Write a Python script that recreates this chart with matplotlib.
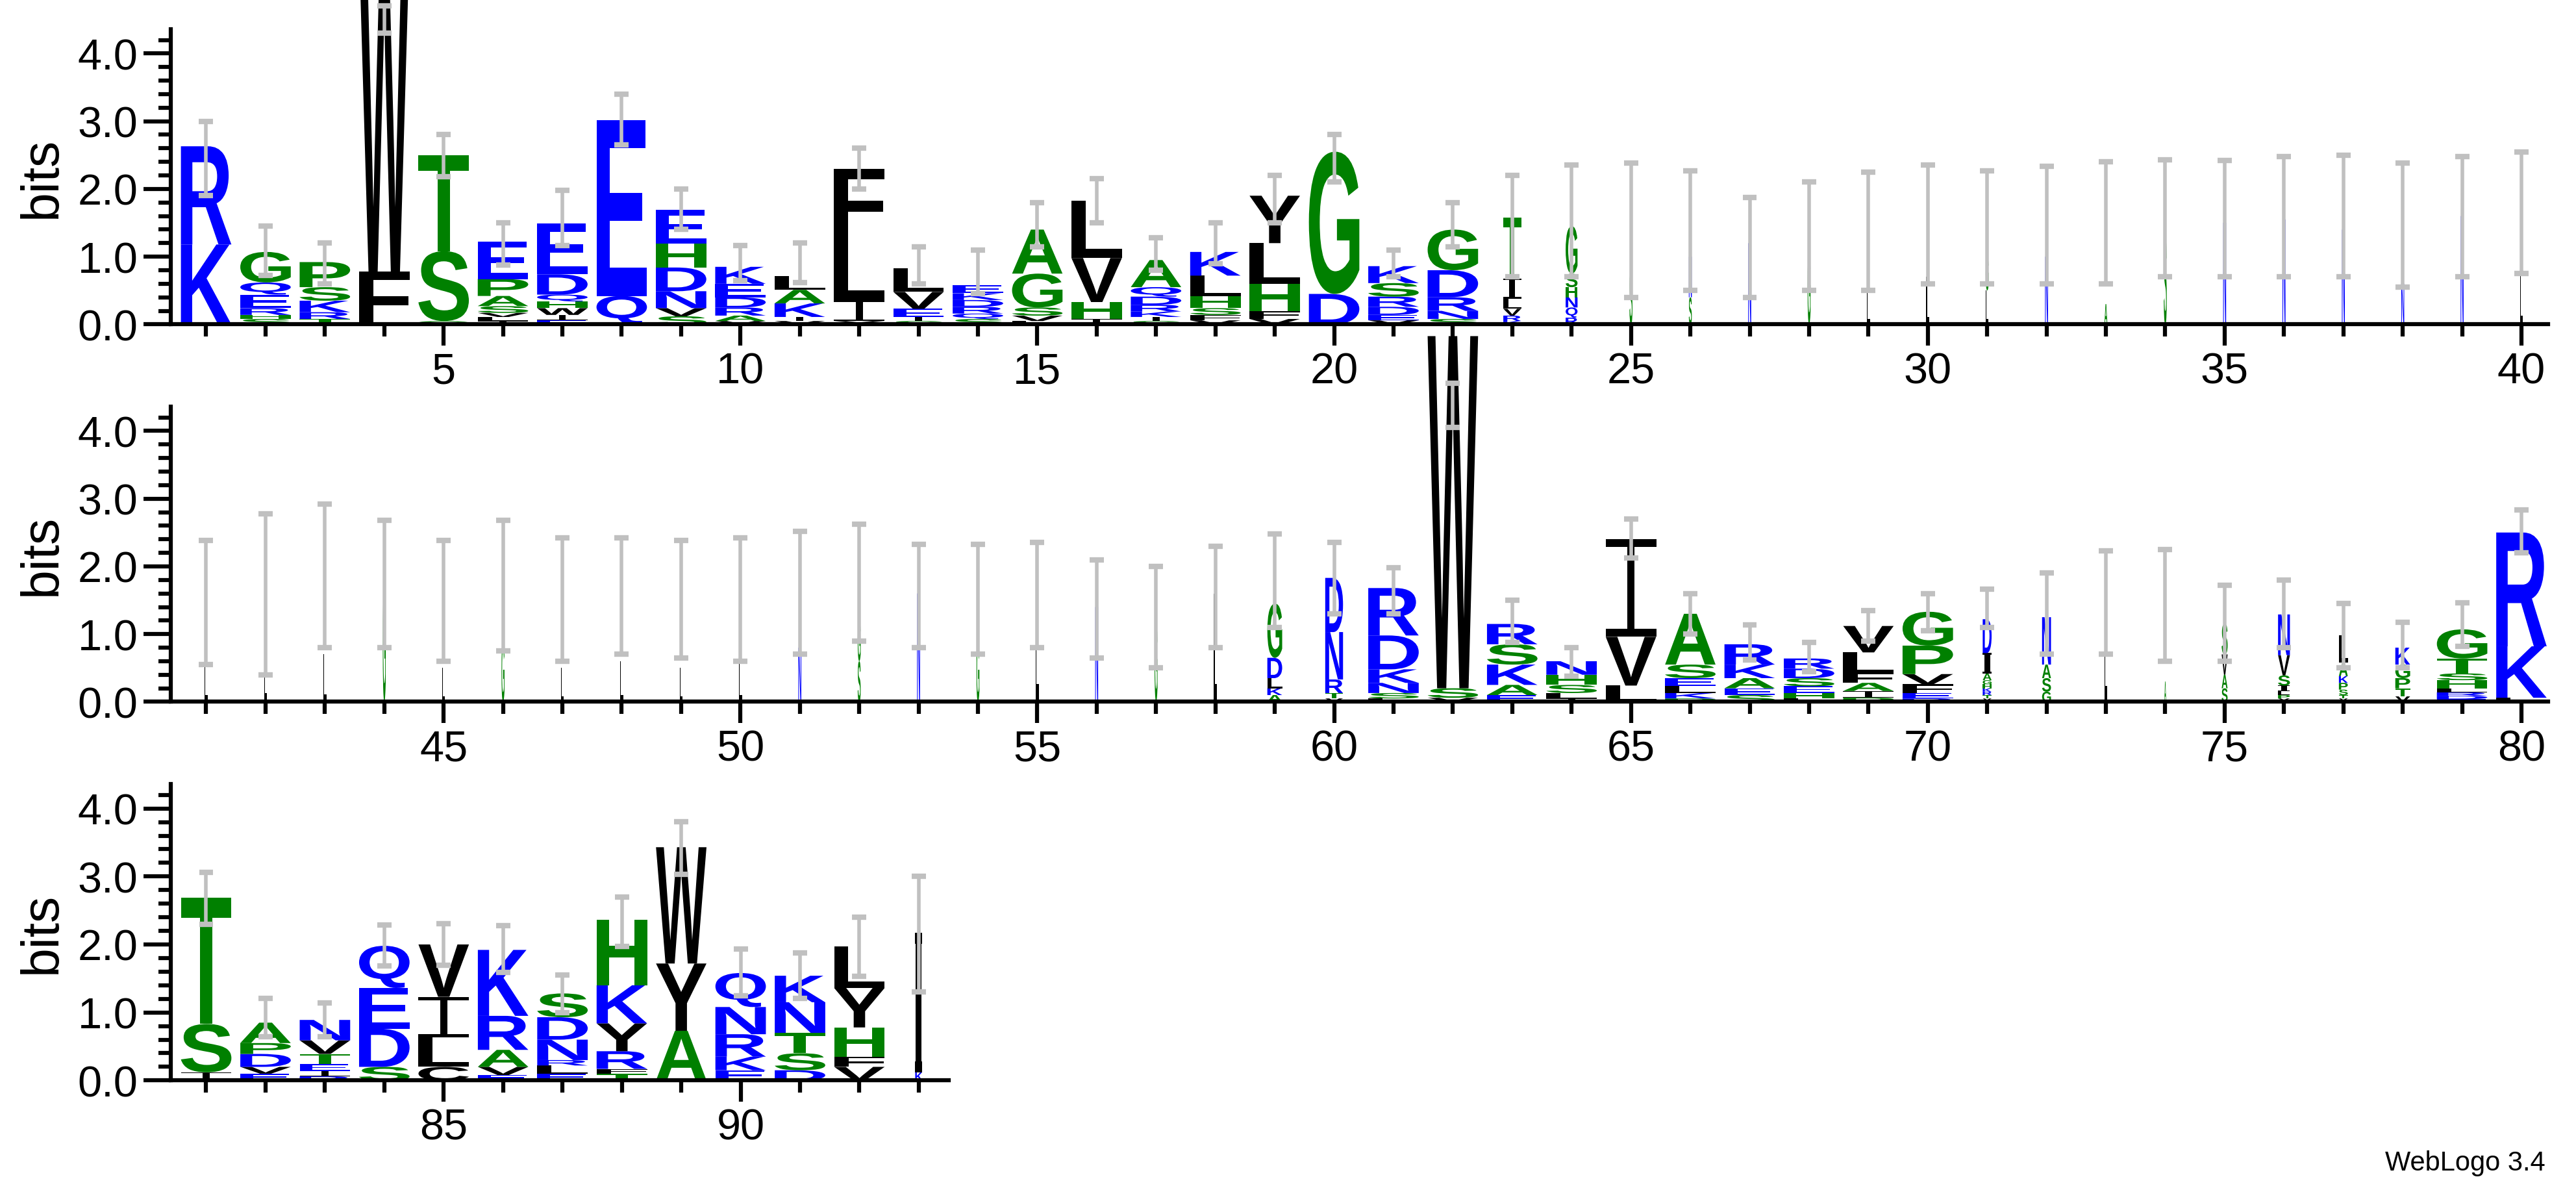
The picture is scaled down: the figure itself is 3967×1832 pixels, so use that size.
import numpy as np
import matplotlib
matplotlib.use('Agg')
import matplotlib.pyplot as plt
from matplotlib.textpath import TextPath
from matplotlib.patches import PathPatch
from matplotlib.path import Path
from matplotlib.font_manager import FontProperties
from matplotlib.transforms import Affine2D
from matplotlib.ticker import MultipleLocator

plt.rcParams['font.family'] = ['Liberation Sans', 'DejaVu Sans']

# letters of each stack, bottom to top, and the height (bits) of each letter
stack_letters = [
    "KR", "SHREQG", "TRKSP", "FW", "GST", "ILVSAPE", "EIWHQDE", "QE", "SVNDHE", "VARDEK",
    "VIKAL", "YILF", "SIEVL", "SQRDKE", "LVSGA", "IHVL", "SIKRDQA", "VFSHLK", "VFHLY", "DG",
    "VEDRSK", "SNRDG", "KRVLIT", "RQNHSG", "S", "SN", "N", "GL", "L", "L",
    "LGI", "N", "A", "S", "N", "N", "N", "N", "N", "L",
    "L", "L", "L", "G", "L", "G", "L", "L", "L", "L",
    "N", "SGL", "N", "G", "L", "N", "G", "L", "AKLDG", "VTRND",
    "LSNKDR", "VSW", "EAKSR", "ILSHN", "LVI", "PKLESA", "SEAKR", "LHESDR", "PIAFLV", "REFVPG",
    "YTRKHGAID", "GSAN", "L", "A", "SAVS", "YPLISVN", "YTSPKAL", "VTPGK", "EDRLHSTG", "LKR",
    "IST", "EVDPA", "RIETVN", "SDEQ", "CLIV", "EVARK", "ELRNDS", "TFRYKH", "AYW", "EKRNQ",
    "DSTNK", "VFHYL", "KI",
]
stack_heights = [
    [1.18, 1.45], [.08, .06, .1, .2, .18, .45], [.08, .1, .17, .2, .37], [.78, 4.8], [.05, 1.03, 1.42],
    [.05, .06, .06, .1, .15, .25, .55], [.06, .08, .1, .1, .1, .3, .75], [.42, 2.6], [.12, .12, .25, .35, .35, .5],
    [.05, .08, .12, .15, .2, .25],
    [.05, .06, .2, .2, .2], [.05, .3, .95, 1.0], [.05, .06, .12, .25, .35], [.08, .08, .1, .1, .1, .12],
    [.05, .08, .12, .5, .65], [.08, .25, .65, .85], [.05, .06, .08, .1, .12, .14, .4], [.06, .08, .1, .18, .3, .35],
    [.08, .12, .4, .6, .7], [.45, 2.1],
    [.06, .08, .12, .15, .2, .25], [.08, .12, .2, .4, .6], [.05, .08, .1, .15, .3, .9], [.1, .15, .15, .15, .2, .7],
    [.8], [.4, .6], [1.2], [1.1, .3], [.5], [.7],
    [.5, .5, .5], [1.0], [.3], [1.3], [1.5], [1.55], [1.4], [.6], [1.6], [.8],
    [.6], [.8], [.7], [1.7], [.5], [.9], [.5], [.6], [.5], [.6],
    [.8], [.6, .6, .5], [1.6], [.9], [1.6], [1.4], [1.2], [1.6], [.1, .1, .15, .3, .8], [.05, .08, .2, .7, .8],
    [.05, .08, .15, .2, .5, .7], [.06, .14, 5.2], [.1, .15, .3, .3, .3], [.05, .08, .12, .15, .2], [.24, .72, 1.44],
    [.05, .08, .1, .12, .2, .75], [.1, .1, .15, .2, .3], [.05, .08, .1, .12, .14, .15], [.06, .1, .12, .15, .3, .39],
    [.05, .08, .13, .15, .42, .5],
    [.05, .05, .05, .05, .06, .06, .1, .3, .5], [.15, .2, .2, .7], [1.45], [.3], [.2, .2, .3, .45],
    [.05, .05, .06, .08, .15, .3, .6], [.05, .05, .08, .1, .1, .2, .4], [.08, .12, .15, .2, .25],
    [.04, .05, .05, .06, .12, .1, .22, .43], [.06, .76, 1.68],
    [.12, .71, 1.86], [.1, .1, .19, .16, .3], [.06, .08, .1, .15, .2, .3], [.2, .56, .6, .62], [.2, .43, .6, .77],
    [.08, .12, .25, .5, .97], [.1, .12, .08, .3, .33, .35], [.1, .07, .26, .41, .56, .96], [.73, .99, 1.71],
    [.15, .2, .33, .4, .5],
    [.15, .25, .3, .45, .39], [.2, .15, .43, .58, .61], [.12, 2.05],
]
stack_widths = [0.85] * 22 + [0.3, 0.2] + [0.05] * 34 + [0.25, 0.3] + [0.85] * 10 + \
    [0.15, 0.15, 0.05, 0.03, 0.1, 0.2, 0.15, 0.25, 0.85, 0.85] + [0.85] * 12 + [0.12]
err_lo = [1.9, .72, .6, 4.3, 2.18, .88, 1.16, 2.65, 1.4, .65,
          .62, 2.0, .6, .45, 1.15, 1.5, .8, .9, 1.5, 2.1,
          .7, 1.15, .7, .7, .4, .5, .4, .5, .5, .6,
          .6, .6, .6, .7, .7, .7, .7, .55, .7, .75,
          .55, .4, .8, .8, .6, .75, .6, .7, .65, .6,
          .7, .9, .8, .7, .8, .65, .5, .8, 1.1, 1.3,
          1.3, 4.05, .88, .38, 2.12, 1.0, .62, .45, .9, 1.05,
          1.1, .7, .7, .6, .6, .8, .5, .5, .82, 2.2,
          2.3, .64, .64, 1.68, 1.69, 1.59, 1.0, 1.97, 3.03, 1.25,
          1.21, 1.53, 1.3]
err_hi = [3.0, 1.45, 1.2, 4.7, 2.8, 1.5, 1.98, 3.4, 2.0, 1.16,
          1.2, 2.6, 1.15, 1.1, 1.8, 2.15, 1.28, 1.5, 2.2, 2.8,
          1.1, 1.8, 2.2, 2.35, 2.38, 2.27, 1.87, 2.1, 2.25, 2.35,
          2.27, 2.33, 2.4, 2.43, 2.42, 2.48, 2.5, 2.38, 2.48, 2.55,
          2.38, 2.78, 2.92, 2.68, 2.38, 2.68, 2.42, 2.42, 2.38, 2.42,
          2.52, 2.62, 2.33, 2.33, 2.35, 2.1, 2.0, 2.3, 2.48, 2.35,
          1.98, 4.7, 1.5, .8, 2.7, 1.6, 1.14, .88, 1.35, 1.6,
          1.66, 1.9, 2.23, 2.25, 1.72, 1.8, 1.45, 1.17, 1.46, 2.83,
          3.06, 1.21, 1.14, 2.29, 2.31, 2.28, 1.55, 2.7, 3.81, 1.93,
          1.88, 2.4, 3.0]
row_ranges = [(1, 40), (41, 80), (81, 93)]

blue = set("RKDEQN")
green = set("GSTAHP")


def letter_color(ch):
    if ch in blue:
        return '#0000ff'
    if ch in green:
        return '#008000'
    return '#000000'


fp = FontProperties(family='Liberation Sans', weight='bold')
glyphs = {}


def i_path(w):
    # serifed capital I in a unit box; the stem never gets thinner than ~0.1 position
    s = min(0.5, max(0.07, 0.05 / w))
    def rect(x0, y0, x1, y1):
        return [(x0, y0), (x1, y0), (x1, y1), (x0, y1), (x0, y0)]
    pts = rect(0, 0, 1, 0.08) + rect(0.5 - s, 0.08, 0.5 + s, 0.92) + rect(0, 0.92, 1, 1)
    codes = ([Path.MOVETO] + [Path.LINETO] * 3 + [Path.CLOSEPOLY]) * 3
    return Path(pts, codes)


def draw_letter(ax, ch, x, y, w, h):
    if h < 0.005:
        return
    if ch == 'I':
        p = i_path(w)
    else:
        if ch not in glyphs:
            glyphs[ch] = TextPath((0, 0), ch, size=1, prop=fp)
        p = glyphs[ch]
    ext = p.get_extents()
    tr = Affine2D().translate(-ext.x0, -ext.y0).scale(w / ext.width, h / ext.height).translate(x - w / 2, y)
    ax.add_patch(PathPatch(p, transform=tr + ax.transData, facecolor=letter_color(ch),
                           edgecolor='none', clip_on=False, zorder=2))


fig = plt.figure(figsize=(39.67, 18.33), dpi=100)
rects = [(0.0662, 0.727, 0.923, 0.248), (0.0662, 0.41, 0.923, 0.248), (0.0662, 0.092, 0.302, 0.249)]
xlims = [(0.4, 40.45), (40.4, 80.45), (80.4, 93.5)]

for r, (a, b) in enumerate(row_ranges):
    ax = fig.add_axes(rects[r], zorder=r)
    ax.patch.set_alpha(0)
    for pos in range(a, b + 1):
        i = pos - 1
        y = 0.0
        for ch, h in zip(stack_letters[i], stack_heights[i]):
            draw_letter(ax, ch, pos, y, stack_widths[i], h)
            y += h
        lo, hi = err_lo[i], err_hi[i]
        ax.plot([pos, pos], [lo, hi], color='#c0c0c0', lw=4, zorder=3, clip_on=False)
        for yy in (lo, hi):
            ax.plot([pos - 0.12, pos + 0.12], [yy, yy], color='#c0c0c0', lw=6, zorder=3, clip_on=False,
                    solid_capstyle='butt')
    ax.set_xlim(*xlims[r])
    ax.set_ylim(0, 4.36)
    for s in ('top', 'right'):
        ax.spines[s].set_visible(False)
    for s in ('left', 'bottom'):
        ax.spines[s].set_linewidth(4.5)
    ax.set_yticks([0, 1, 2, 3, 4])
    ax.set_yticklabels(['0.0', '1.0', '2.0', '3.0', '4.0'])
    ax.yaxis.set_minor_locator(MultipleLocator(0.2))
    ax.xaxis.set_major_locator(MultipleLocator(5))
    ax.xaxis.set_minor_locator(MultipleLocator(1))
    ax.tick_params(axis='both', which='major', labelsize=48, width=4.5, length=24, pad=6)
    ax.tick_params(axis='x', which='minor', width=4.5, length=14)
    ax.tick_params(axis='y', which='minor', width=4.5, length=14)
    ax.tick_params(axis='y', which='major', length=30)
    ax.set_ylabel('bits', fontsize=58, labelpad=12)

fig.text(0.988, 0.012, 'WebLogo 3.4', ha='right', va='bottom', fontsize=30)
fig.savefig('out.png', dpi=100)
